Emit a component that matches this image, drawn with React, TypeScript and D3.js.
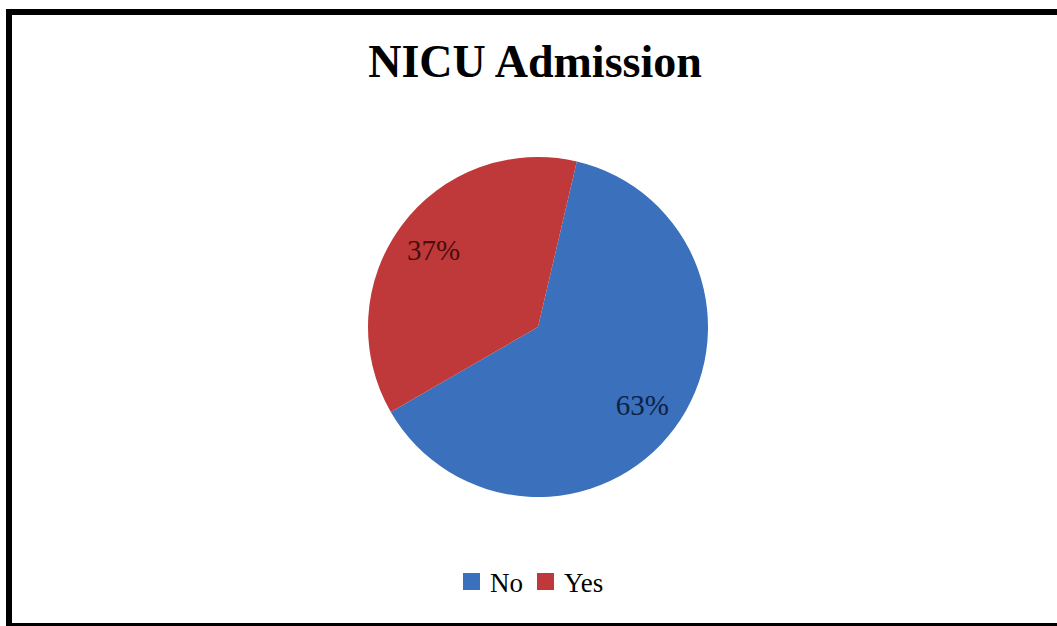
import React from "react";
import * as d3 from "d3";

const categories = ["No", "Yes"];
const values = [63, 37];
const labels = ["63%", "37%"];
const colors = ["#3b70bd", "#c0393a"];
const labelColors = ["#0e2244", "#4a0d0d"];
const title = "NICU Admission";

export default function App() {
  const W = 1057;
  const H = 626;
  const cx = 538;
  const cy = 327;
  const r = 170;
  const start = (13.2 * Math.PI) / 180;
  const pie = d3
    .pie<number>()
    .sort(null)
    .value((d) => d)
    .startAngle(start)
    .endAngle(start + 2 * Math.PI);
  const arcs = pie(values);
  const arc = d3.arc<d3.PieArcDatum<number>>().innerRadius(0).outerRadius(r);
  const labelArc = d3.arc<d3.PieArcDatum<number>>().innerRadius(130 * 2 - r).outerRadius(r);
  const font = "'Liberation Serif', 'Times New Roman', serif";

  return (
    <svg
      width={W}
      height={H}
      style={{ position: "fixed", left: 0, top: 0, background: "#fff" }}
    >
      <rect x={0} y={0} width={W} height={H} fill="#fff" />
      {/* frame */}
      <rect x={6} y={9} width={W - 6} height={6} fill="#000" />
      <rect x={6} y={9} width={6} height={H - 9} fill="#000" />
      <rect x={6} y={623} width={W - 6} height={3} fill="#000" />
      <text
        x={535}
        y={77}
        textAnchor="middle"
        fontFamily={font}
        fontWeight="bold"
        fontSize={46}
        fill="#000"
      >
        {title}
      </text>
      <g transform={`translate(${cx},${cy})`}>
        {arcs.map((a, i) => (
          <path key={categories[i]} d={arc(a) || ""} fill={colors[i]} />
        ))}
        {arcs.map((a, i) => {
          const [x, y] = labelArc.centroid(a);
          return (
            <text
              key={"l" + i}
              x={x}
              y={y}
              dy="0.35em"
              textAnchor="middle"
              fontFamily={font}
              fontSize={29}
              fill={labelColors[i]}
            >
              {labels[i]}
            </text>
          );
        })}
      </g>
      <g>
        {categories.map((c, i) => {
          const xs = [463, 537];
          return (
            <g key={c} transform={`translate(${xs[i]},573)`}>
              <rect x={0} y={0} width={17} height={17} fill={colors[i]} />
              <text x={27} y={19} fontFamily={font} fontSize={27} fill="#000">
                {c}
              </text>
            </g>
          );
        })}
      </g>
    </svg>
  );
}
